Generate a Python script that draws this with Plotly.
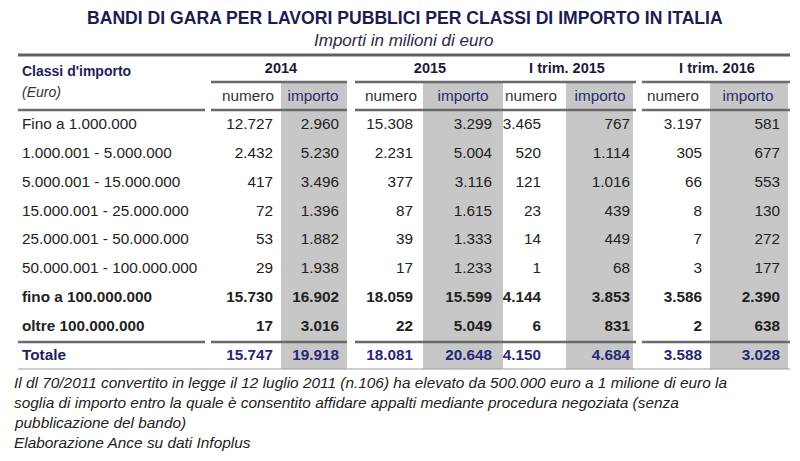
import plotly.graph_objects as go

# ---------------- data ----------------
title = "BANDI DI GARA PER LAVORI PUBBLICI PER CLASSI DI IMPORTO IN ITALIA"
subtitle = "Importi in milioni di euro"
stub_header = "Classi d'importo"
stub_sub = "(Euro)"
classes = ["Fino a 1.000.000", "1.000.001 - 5.000.000", "5.000.001 - 15.000.000",
           "15.000.001 - 25.000.000", "25.000.001 - 50.000.000", "50.000.001 - 100.000.000",
           "fino a 100.000.000", "oltre 100.000.000", "Totale"]
periods = ["2014", "2015", "I trim. 2015", "I trim. 2016"]
measures = ["numero", "importo"]
numero_2014 = [12727, 2432, 417, 72, 53, 29, 15730, 17, 15747]
importo_2014 = [2960, 5230, 3496, 1396, 1882, 1938, 16902, 3016, 19918]
numero_2015 = [15308, 2231, 377, 87, 39, 17, 18059, 22, 18081]
importo_2015 = [3299, 5004, 3116, 1615, 1333, 1233, 15599, 5049, 20648]
numero_q1_2015 = [3465, 520, 121, 23, 14, 1, 4144, 6, 4150]
importo_q1_2015 = [767, 1114, 1016, 439, 449, 68, 3853, 831, 4684]
numero_q1_2016 = [3197, 305, 66, 8, 7, 3, 3586, 2, 3588]
importo_q1_2016 = [581, 677, 553, 130, 272, 177, 2390, 638, 3028]
footnote = [
    "Il dl 70/2011 convertito in legge il 12 luglio 2011 (n.106) ha elevato da 500.000 euro a 1 milione di euro la",
    "soglia di importo entro la quale è consentito affidare appalti mediante procedura negoziata (senza",
    "pubblicazione del bando)",
    "Elaborazione Ance su dati Infoplus",
]
series = [numero_2014, importo_2014, numero_2015, importo_2015,
          numero_q1_2015, importo_q1_2015, numero_q1_2016, importo_q1_2016]

# ---------------- layout constants (page-pixel units on hidden axes) ----------------
W, H = 800, 461
PAGE_MARGIN = 8  # default body margin of the html page
FONT = "Liberation Sans, Arial, sans-serif"
ROW_Y0, ROW_H = 125, 28.9
BOLD_ROWS = {6, 7, 8}
TOTAL_ROW = 8
LABEL_X = 22
COL_RIGHT = [273, 339, 413, 492, 541, 630, 702, 780]
COL_HEAD = [248, 313, 391, 463, 531, 600, 673, 748]
GRAY_SPANS = [None, (281, 347), None, (423, 503), None, (566, 633), None, (710, 788)]
PERIOD_X = [281, 430, 567, 717]
Y_PERIOD, Y_MEASURE = 69, 97
Y_LINE_TOP, Y_LINE_PERIOD, Y_LINE_HEAD, Y_LINE_TOT, Y_LINE_BOT = 55, 82, 110, 342, 369
SEG_PERIOD = [(211, 347), (355, 636), (642, 790)]
SEG_HEAD = [(18, 205)] + SEG_PERIOD
GRAY = "#c7c7c7"
NAVY = "#1e1e5c"
BLUE_TOT = "#27277a"
TXT = "#222222"
BODY_SIZE = 15.3

def fmt(v):
    return f"{v:,}".replace(",", ".")

row_y = [ROW_Y0 + ROW_H * i for i in range(len(classes))]

fig = go.Figure()

# row labels
fig.add_trace(go.Scatter(
    x=[LABEL_X] * len(classes), y=row_y, mode="text",
    text=[(f"<b>{c}</b>" if i in BOLD_ROWS else c) for i, c in enumerate(classes)],
    textposition="middle right",
    textfont=dict(family=FONT, size=BODY_SIZE,
                  color=[NAVY if i == TOTAL_ROW else TXT for i in range(len(classes))]),
    hoverinfo="skip", showlegend=False))

# values
for j, vals in enumerate(series):
    fig.add_trace(go.Scatter(
        x=[COL_RIGHT[j]] * len(vals), y=row_y, mode="text",
        text=[(f"<b>{fmt(v)}</b>" if i in BOLD_ROWS else fmt(v)) for i, v in enumerate(vals)],
        textposition="middle left",
        textfont=dict(family=FONT, size=BODY_SIZE,
                      color=[BLUE_TOT if i == TOTAL_ROW else TXT for i in range(len(vals))]),
        hoverinfo="skip", showlegend=False))

# measure sub-headers
fig.add_trace(go.Scatter(
    x=COL_HEAD, y=[Y_MEASURE] * len(COL_HEAD), mode="text",
    text=[measures[j % 2] for j in range(len(COL_HEAD))],
    textposition="middle center",
    textfont=dict(family=FONT, size=BODY_SIZE,
                  color=["#333333" if j % 2 == 0 else "#2a2a70" for j in range(len(COL_HEAD))]),
    hoverinfo="skip", showlegend=False))

# period headers
fig.add_trace(go.Scatter(
    x=PERIOD_X, y=[Y_PERIOD] * len(PERIOD_X), mode="text",
    text=[f"<b>{p}</b>" for p in periods],
    textposition="middle center",
    textfont=dict(family=FONT, size=14.5, color="#1a1a3a"),
    hoverinfo="skip", showlegend=False))

# stub header
fig.add_trace(go.Scatter(
    x=[LABEL_X, LABEL_X], y=[72, 93], mode="text",
    text=[f"<b>{stub_header}</b>", f"<i>{stub_sub}</i>"],
    textposition="middle right",
    textfont=dict(family=FONT, size=14, color=[NAVY, "#333333"]),
    hoverinfo="skip", showlegend=False))

shapes = []
for span in GRAY_SPANS:
    if span:
        shapes.append(dict(type="rect", xref="x", yref="y", x0=span[0], x1=span[1],
                           y0=Y_LINE_PERIOD, y1=Y_LINE_BOT, fillcolor=GRAY,
                           line=dict(width=0), layer="below"))
shapes.append(dict(type="line", xref="x", yref="y", x0=18, x1=790, y0=Y_LINE_TOP, y1=Y_LINE_TOP,
                   line=dict(color="#606060", width=3)))
for a, b in SEG_PERIOD:
    shapes.append(dict(type="line", xref="x", yref="y", x0=a, x1=b, y0=Y_LINE_PERIOD, y1=Y_LINE_PERIOD,
                       line=dict(color="#6a6a6a", width=2.5)))
for yy in (Y_LINE_HEAD, Y_LINE_TOT):
    for a, b in SEG_HEAD:
        shapes.append(dict(type="line", xref="x", yref="y", x0=a, x1=b, y0=yy, y1=yy,
                           line=dict(color="#6a6a6a", width=2.5)))
shapes.append(dict(type="line", xref="x", yref="y", x0=18, x1=790, y0=Y_LINE_BOT, y1=Y_LINE_BOT,
                   line=dict(color="#9a9a9a", width=1)))

annotations = [
    dict(x=405, y=18, xref="x", yref="y", text=f"<b>{title}</b>", showarrow=False,
         xanchor="center", yanchor="middle", font=dict(family=FONT, size=17.6, color="#1c1c50")),
    dict(x=404, y=40.5, xref="x", yref="y", text=f"<i>{subtitle}</i>", showarrow=False,
         xanchor="center", yanchor="middle", font=dict(family=FONT, size=17, color="#2a2a48")),
]
for k, line in enumerate(footnote):
    annotations.append(dict(x=12, y=382 + 20.3 * k, xref="x", yref="y", text=f"<i>{line}</i>",
                            showarrow=False, xanchor="left", yanchor="middle",
                            font=dict(family=FONT, size=15.4, color=TXT)))

fig.update_layout(
    width=W - PAGE_MARGIN, height=H - PAGE_MARGIN, margin=dict(l=0, r=0, t=0, b=0),
    paper_bgcolor="white", plot_bgcolor="white",
    xaxis=dict(range=[PAGE_MARGIN, W], visible=False, fixedrange=True),
    yaxis=dict(range=[H, PAGE_MARGIN], visible=False, fixedrange=True),
    shapes=shapes, annotations=annotations,
)

fig.write_html("out.html")
